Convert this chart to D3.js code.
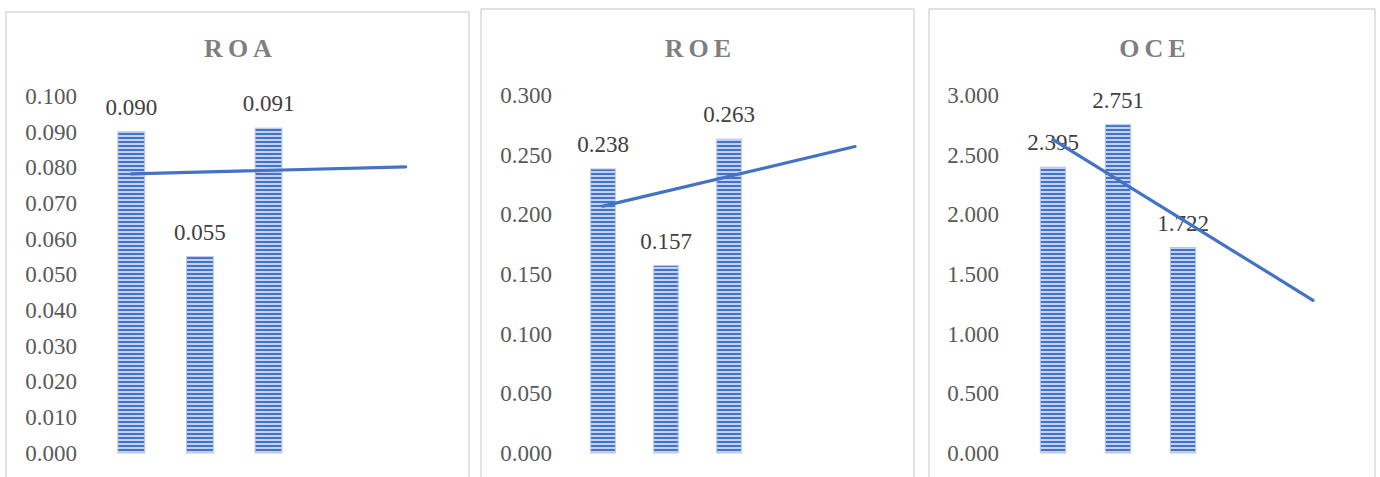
<!DOCTYPE html>
<html>
<head>
<meta charset="utf-8">
<script src="https://cdnjs.cloudflare.com/ajax/libs/d3/7.8.5/d3.min.js"></script>
<style>
  body { margin: 0; background: #fff; }
  svg text { font-family: "Liberation Serif", "Times New Roman", serif; }
</style>
</head>
<body>
<div id="chart"></div>
<script>
// data
var titles = ["ROA", "ROE", "OCE"];
var categories = ["1", "2", "3"];
var roaValues = [0.090, 0.055, 0.091];
var roeValues = [0.238, 0.157, 0.263];
var oceValues = [2.395, 2.751, 1.722];
var roaTicks = [0, 0.01, 0.02, 0.03, 0.04, 0.05, 0.06, 0.07, 0.08, 0.09, 0.10];
var roeTicks = [0, 0.05, 0.10, 0.15, 0.20, 0.25, 0.30];
var oceTicks = [0, 0.5, 1.0, 1.5, 2.0, 2.5, 3.0];
var forecastPeriods = 2; // linear trendline runs two periods past the data

var width = 1380, height = 477;
var blue = "#4472c4";

var svg = d3.select("#chart")
  .append("svg")
  .attr("width", width)
  .attr("height", height);

// striped bar fill
var defs = svg.append("defs");
var pat = defs.append("pattern")
  .attr("id", "stripes")
  .attr("patternUnits", "userSpaceOnUse")
  .attr("width", 4)
  .attr("height", 4);
pat.append("rect").attr("width", 4).attr("height", 4).attr("fill", "#c3d1ee");
pat.append("rect").attr("y", 1).attr("width", 4).attr("height", 2).attr("fill", blue);

// one layout entry per panel
var panels = [
  {title: titles[0], values: roaValues, ticks: roaTicks, box: [6, 469], top: 12, plot: [97, 440], yTop: 96, labelRight: 77},
  {title: titles[1], values: roeValues, ticks: roeTicks, box: [481, 914], top: 9, plot: [571.5, 886.5], yTop: 95, labelRight: 552},
  {title: titles[2], values: oceValues, ticks: oceTicks, box: [929, 1375], top: 9, plot: [1020.5, 1345.5], yTop: 95, labelRight: 999}
];

var yBottom = 453;

panels.forEach(function(p) {
  var g = svg.append("g");

  // border (bottom runs off the picture)
  g.append("rect")
    .attr("x", p.box[0])
    .attr("y", p.top)
    .attr("width", p.box[1] - p.box[0])
    .attr("height", height + 20)
    .attr("fill", "#fff")
    .attr("stroke", "#d9d9d9")
    .attr("stroke-width", 1.5);

  g.append("text")
    .attr("x", (p.box[0] + p.box[1]) / 2 + 3)
    .attr("y", 57)
    .attr("text-anchor", "middle")
    .attr("fill", "#7f7f7f")
    .style("font-size", "26px")
    .style("font-weight", "bold")
    .style("letter-spacing", "5px")
    .text(p.title);

  var slots = d3.range(categories.length + forecastPeriods);
  var x = d3.scaleBand()
    .domain(slots)
    .range(p.plot)
    .paddingInner(0.61)
    .paddingOuter(0.305);

  var y = d3.scaleLinear()
    .domain([0, d3.max(p.ticks)])
    .range([yBottom, p.yTop]);

  var fmt = d3.format(".3f");

  // y axis labels only, no line or ticks
  var axis = g.append("g")
    .attr("transform", "translate(" + p.labelRight + ",0)")
    .call(d3.axisLeft(y).tickValues(p.ticks).tickFormat(fmt).tickSize(0).tickPadding(0));
  axis.select(".domain").remove();
  axis.selectAll("text")
    .attr("fill", "#595959")
    .style("font-size", "23px")
    .style("font-family", "'Liberation Serif', serif");

  // bars
  g.selectAll(".bar")
    .data(p.values)
    .enter()
    .append("rect")
    .attr("class", "bar")
    .attr("x", function(d, i) { return x(i); })
    .attr("y", function(d) { return y(d); })
    .attr("width", x.bandwidth())
    .attr("height", function(d) { return yBottom - y(d); })
    .attr("fill", "url(#stripes)")
    .attr("stroke", "#b4c7e7")
    .attr("stroke-width", 1);

  // data labels
  g.selectAll(".lbl")
    .data(p.values)
    .enter()
    .append("text")
    .attr("class", "lbl")
    .attr("x", function(d, i) { return x(i) + x.bandwidth() / 2; })
    .attr("y", function(d) { return y(d) - 17; })
    .attr("text-anchor", "middle")
    .attr("fill", "#404040")
    .style("font-size", "23px")
    .text(function(d) { return fmt(d); });

  // linear trendline, least squares on periods 1..n
  var n = p.values.length;
  var xs = d3.range(1, n + 1);
  var mx = d3.mean(xs), my = d3.mean(p.values);
  var num = d3.sum(xs, function(v, i) { return (v - mx) * (p.values[i] - my); });
  var den = d3.sum(xs, function(v) { return (v - mx) * (v - mx); });
  var slope = num / den, icpt = my - slope * mx;
  var trend = [1, n + forecastPeriods].map(function(t) { return [t, icpt + slope * t]; });

  var line = d3.line()
    .x(function(d) { return x(d[0] - 1) + x.bandwidth() / 2; })
    .y(function(d) { return y(d[1]); });

  g.append("path")
    .datum(trend)
    .attr("d", line)
    .attr("fill", "none")
    .attr("stroke", blue)
    .attr("stroke-width", 3.2)
    .attr("stroke-linecap", "round");
});
</script>
</body>
</html>
